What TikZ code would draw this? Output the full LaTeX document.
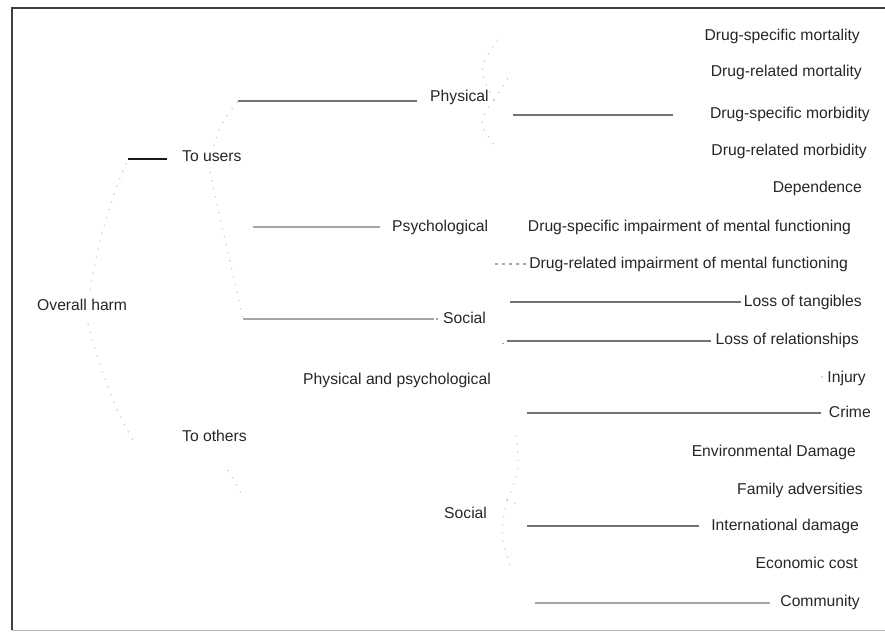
\documentclass[tikz,border=0pt]{standalone}
\usepackage{fontspec}
\setmainfont{Liberation Sans}
\begin{document}
\begin{tikzpicture}[x=1pt,y=-1pt,
  lbl/.style={inner sep=0pt, text height=11pt, text depth=3pt, font=\fontsize{15.7}{18}\selectfont, text=black!85},
  lbl-r/.style={lbl, anchor=east},
  lbl-l/.style={lbl, anchor=west},
  lin/.style={draw=black!55, line width=1.1pt},
  linlight/.style={draw=black!35, line width=1.1pt},
  lindark/.style={draw=black!90, line width=1.1pt},
  faint/.style={draw=black!22, line width=1.2pt, dash pattern=on 1.2pt off 7pt},
  frame/.style={draw=black!75, line width=1.3pt}]
\useasboundingbox (0,0) rectangle (885,633);
% frame
\draw[frame] (885,8) -- (12,8) -- (12,630);
\draw[draw=black!30, line width=1pt] (12,630) -- (885,630);

% left-hand labels
\node[lbl-l] (overall) at (37,306) {Overall harm};
\node[lbl-l] (users) at (182,157) {To users};
\node[lbl-l] (others) at (182,437) {To others};
\node[lbl-l] (phys) at (430,97) {Physical};
\node[lbl-l] (psych) at (392,227) {Psychological};
\node[lbl-l] (soc1) at (443,319) {Social};
\node[lbl-l] (pp) at (303,380) {Physical and psychological};
\node[lbl-l] (soc2) at (444,514) {Social};

% right-hand labels
\node[lbl-r] (dsmort) at (860,36) {Drug-specific mortality};
\node[lbl-r] (drmort) at (862,72) {Drug-related mortality};
\node[lbl-r] (dsmorb) at (870,114) {Drug-specific morbidity};
\node[lbl-r] (drmorb) at (867,151) {Drug-related morbidity};
\node[lbl-r] (dep) at (862,188) {Dependence};
\node[lbl-r] (dsimp) at (851,227) {Drug-specific impairment of mental functioning};
\node[lbl-r] (drimp) at (848,264) {Drug-related impairment of mental functioning};
\node[lbl-r] (tang) at (862,302) {Loss of tangibles};
\node[lbl-r] (rel) at (859,340) {Loss of relationships};
\node[lbl-r] (inj) at (866,378) {Injury};
\node[lbl-r] (crime) at (871,413) {Crime};
\node[lbl-r] (env) at (856,452) {Environmental Damage};
\node[lbl-r] (fam) at (863,490) {Family adversities};
\node[lbl-r] (intl) at (859,526) {International damage};
\node[lbl-r] (econ) at (858,564) {Economic cost};
\node[lbl-r] (comm) at (860,602) {Community};

% line start points
\coordinate (uL) at (128,159);
\coordinate (pA) at (238,101);
\coordinate (qA) at (253,227);
\coordinate (sA) at (243,319);
\coordinate (mA) at (513,115);
\coordinate (dA) at (495,264);
\coordinate (tA) at (510,302);
\coordinate (rA) at (507,341);
\coordinate (cA) at (527,413);
\coordinate (iA) at (527,526);
\coordinate (kA) at (535,603);

% visible connectors (horizontal)
\draw[lindark] (uL) -- ([xshift=-15pt]uL -| users.west);
\draw[lin] (pA) -- ([xshift=-13pt]pA -| phys.west);
\draw[linlight] (qA) -- ([xshift=-12pt]qA -| psych.west);
\draw[linlight] (sA) -- ([xshift=-12pt]sA -| soc1.west);
\draw[linlight, dash pattern=on 3pt off 2pt] ([xshift=-12pt]sA -| soc1.west) -- ([xshift=-5pt]sA -| soc1.west);
\draw[lin] (mA) -- ([xshift=-37pt]mA -| dsmorb.west);
\draw[linlight, dash pattern=on 3pt off 4pt] (dA) -- ([xshift=-3pt]dA -| drimp.west);
\draw[lin] (tA) -- ([xshift=-3pt]tA -| tang.west);
\draw[draw=black!35, line width=1pt] ([xshift=-5pt,yshift=-2pt]rA) -- ([xshift=-3pt,yshift=-2pt]rA);
\draw[lin] (rA) -- ([xshift=-4pt]rA -| rel.west);
\fill[black!25] ([xshift=-5pt,yshift=1pt]inj.west) circle (1pt);
\draw[lin] (cA) -- ([xshift=-8pt]cA -| crime.west);
\draw[lin] (iA) -- ([xshift=-12pt]iA -| intl.west);
\draw[linlight] (kA) -- ([xshift=-10pt]kA -| comm.west);

% faint (faded) connectors
\coordinate (oUp) at (90,290);
\coordinate (oDn) at (88,324);
\coordinate (oEnd) at (134,442);
\coordinate (uDn) at (210,172);
\coordinate (uUp) at (214,146);
\coordinate (toDn) at (228,470);
\coordinate (toEnd) at (243,496);
\draw[faint] (oUp) .. controls (98,240) and (112,195) .. (uL);
\draw[faint] (oDn) .. controls (100,370) and (115,410) .. (oEnd);
\draw[faint] (uDn) .. controls (222,230) and (235,280) .. (sA);
\draw[faint] (uUp) .. controls (220,125) .. (pA);
\draw[faint] (toDn) -- (toEnd);
\coordinate (pf) at (494,100);
\draw[faint] (pf) .. controls (478,70) .. (497,40);
\draw[faint] (pf) -- (508,78);
\draw[faint] (pf) .. controls (478,122) .. (496,148);
\coordinate (sf) at (507,500);
\draw[faint] (sf) .. controls (520,470) .. (516,435);
\draw[faint] (sf) -- (522,506);
\draw[faint] (sf) .. controls (500,535) .. (510,565);
\end{tikzpicture}
\end{document}
